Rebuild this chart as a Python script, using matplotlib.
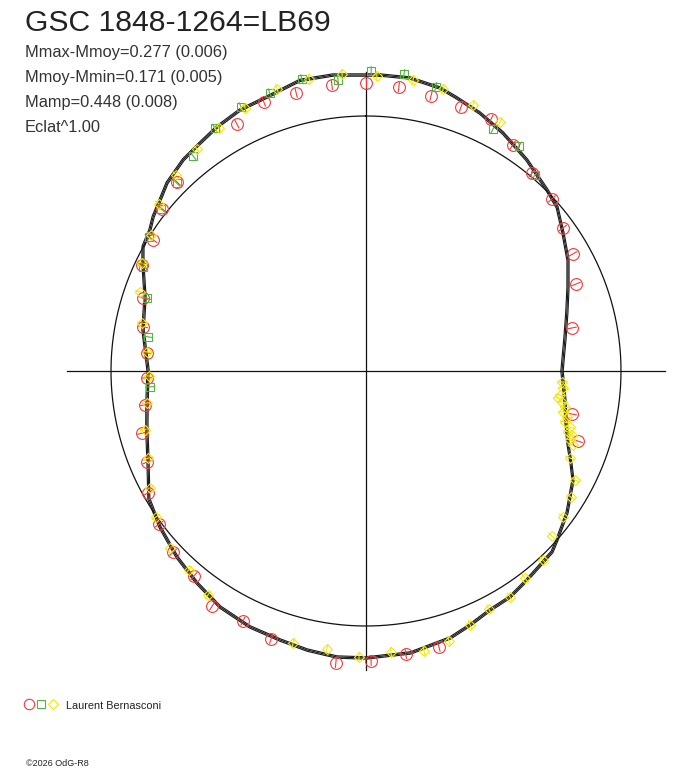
import numpy as np
import matplotlib
matplotlib.use("Agg")
import matplotlib.pyplot as plt

plt.rcParams['font.family'] = ['Liberation Sans', 'DejaVu Sans']

TITLE = "GSC 1848-1264=LB69"
STATS = ["Mmax-Mmoy=0.277 (0.006)",
         "Mmoy-Mmin=0.171 (0.005)",
         "Mamp=0.448 (0.008)",
         "Eclat^1.00"]
OBSERVER = "Laurent Bernasconi"
FOOTER = "\u00a92026 OdG-R8"

# phase angle in degrees (clockwise from top), radius in plot units
REF_R = 255      # mean level circle
AXIS_R = 299     # length of the cross lines
R_LIM = 310

fit_phase = [2.7, 8.5, 14.7, 18.4, 23.8, 29.9, 37.3, 45.0, 49.4, 55.0, 61.2, 67.4, 73.9, 80.6,
             90.0, 98.3, 104.0, 110.0, 114.2, 117.8, 125.2, 131.5, 134.2, 142.4, 147.5, 152.6,
             157.7, 162.5, 171.0, 180.0, 185.8, 191.9, 197.7, 204.4, 211.7, 218.6, 225.5, 232.9,
             239.5, 247.1, 255.1, 261.7, 270.3, 280.4, 288.5, 295.8, 299.1, 303.1, 305.9, 313.4,
             319.1, 324.0, 328.6, 334.2, 340.1, 347.2, 353.6]
fit_r = [296.3, 296.3, 292.5, 287.8, 282.0, 274.6, 265.4, 256.0, 251.7, 240.5, 230.5, 218.8,
         209.0, 201.7, 196.0, 201.0, 206.0, 215.0, 224.7, 234.0, 246.0, 255.0, 259.5, 263.8,
         268.0, 269.3, 274.5, 279.9, 285.4, 287.0, 287.5, 285.2, 282.4, 281.0, 277.5, 271.1,
         265.2, 258.4, 252.0, 236.6, 226.8, 221.3, 218.0, 226.7, 233.0, 247.8, 255.2, 258.0,
         262.8, 273.8, 279.3, 282.0, 285.9, 289.8, 291.3, 298.0, 297.8]
FIT_SPREAD = 1.2

red_phase = [0, 353.2, 6.6, 13.3, 19.8, 26.4, 33.0, 40.0, 47.2, 54.0, 60.5, 67.5, 78.2, 101.8,
             108.3, 165.2, 172.0, 179.0, 185.9, 199.5, 206.2, 213.2, 220.0, 226.8, 233.5, 240.8,
             247.4, 254.5, 261.3, 268.2, 274.7, 281.2, 288.1, 295.3, 301.6, 308.5, 315.0, 332.4,
             339.2, 345.9]
red_r = [288, 288.0, 285.9, 282.6, 280.6, 281.3, 269.6, 258.4, 253.3, 243.4, 237.8, 227.3, 210.4,
         210.4, 223.3, 285.5, 285.8, 290.0, 293.5, 284.3, 278.6, 281.0, 267.6, 264.6, 257.4, 249.8,
         237.2, 232.4, 223.6, 219.1, 219.7, 227.3, 234.6, 247.8, 250.1, 260.5, 267.3, 278.7,
         287.7, 286.7]

green_phase = [347.6, 354.5, 1.0, 7.3, 13.8, 27.7, 34.2, 40.8, 340.9, 334.7, 328.1, 321.2,
               314.8, 308.3, 301.7, 295.0, 288.4, 278.9, 265.8]
green_r = [298.9, 292.3, 300.0, 299.4, 292.5, 273.3, 272.1, 258.8, 294.1, 292.1, 286.1, 276.0,
           266.6, 261.3, 255.0, 246.1, 230.8, 220.6, 216.6]

yellow_phase = [355.4, 349.0, 342.5, 335.3, 328.8, 322.7, 315.9, 308.9, 302.3, 295.7, 289.3,
                282.1, 275.0, 268.7, 261.7, 255.1, 248.2, 241.6, 235.2, 227.9, 221.7, 215.2,
                195.0, 188.0, 181.4, 174.9, 168.3, 162.9, 157.7, 152.7, 147.5, 142.5, 136.9,
                131.6, 126.5, 121.6, 117.5, 113.1, 109.7, 108.7, 107.3, 106.8, 105.4, 104.4,
                102.9, 101.8, 100.3, 99.0, 98.0, 97.1, 94.9, 93.2, 2.1, 9.2, 15.3, 21.9, 28.3]
yellow_r = [298.0, 297.5, 295.7, 289.5, 284.0, 279.0, 273.0, 266.0, 254.4, 248.7, 239.4,
            229.1, 219.8, 217.1, 221.3, 228.7, 234.7, 245.6, 255.8, 264.1, 266.3, 274.1,
            281.6, 280.7, 286.1, 282.1, 285.9, 282.5, 274.5, 267.9, 268.0, 261.0, 258.9,
            248.6, 245.2, 240.6, 235.7, 221.8, 219.8, 215.4, 215.7, 211.0, 211.5, 205.4,
            206.2, 201.2, 202.2, 198.4, 193.9, 195.5, 197.7, 196.3, 295.2, 294.8, 292.3, 286.7, 282.8]

ERR = 5

RED = '#f23a3a'
GREEN = '#56b243'
YELLOW = '#f2ea00'

W, H = 688, 768
fig = plt.figure(figsize=(W / 100, H / 100), dpi=100)
cx, cy = 366, 371
ax = fig.add_axes([(cx - R_LIM) / W, (H - cy - R_LIM) / H, 2 * R_LIM / W, 2 * R_LIM / H],
                  projection='polar')
ax.set_theta_zero_location('N')
ax.set_theta_direction(-1)
ax.set_ylim(0, R_LIM)
ax.axis('off')

# cross lines and mean circle
ax.plot([0, 0, np.pi], [AXIS_R, 0, AXIS_R], color='#111111', lw=0.9)
ax.plot([np.pi / 2, 0, 3 * np.pi / 2], [AXIS_R, 0, AXIS_R], color='#111111', lw=0.9)
t = np.linspace(0, 2 * np.pi, 400)
ax.plot(t, np.full_like(t, REF_R), color='#111111', lw=0.9)

# fitted curve (with spread)
ft = np.deg2rad(fit_phase + fit_phase[:1])
fr = np.array(fit_r + fit_r[:1], dtype=float)
for off in (-FIT_SPREAD, 0, FIT_SPREAD):
    ax.plot(ft, fr + off, color='#1a1a1a', lw=0.8)

def draw(phase, r, fmt, color, ms):
    ax.errorbar(np.deg2rad(phase), r, yerr=ERR, fmt=fmt, mfc='none', mec=color,
                ecolor=color, elinewidth=0.8, capsize=0, ms=ms, mew=0.8, clip_on=False)

draw(red_phase, red_r, 'o', RED, 8.5)
draw(green_phase, green_r, 's', GREEN, 6.3)
draw(yellow_phase, yellow_r, 'D', YELLOW, 5.5)

# texts
fig.text(25 / W, 1 - 31 / H, TITLE, fontsize=21.7, color='#222222', va='baseline')
for i, s in enumerate(STATS):
    fig.text(25 / W, 1 - (56.7 + 25 * i) / H, s, fontsize=11.8, color='#333333', va='baseline')

# observer legend
lg = fig.add_axes([0, 0, 1, 1], facecolor='none')
lg.set_xlim(0, W)
lg.set_ylim(H, 0)
lg.axis('off')
lg.plot([29], [704], 'o', mfc='none', mec=RED, ms=7.5, mew=0.8)
lg.plot([41], [704], 's', mfc='none', mec=GREEN, ms=5.8, mew=0.8)
lg.plot([53], [704], 'D', mfc='none', mec=YELLOW, ms=5.2, mew=0.8)
lg.text(66, 709, OBSERVER, fontsize=7.8, color='#222222', va='baseline')
lg.text(26, 766, FOOTER, fontsize=6.5, color='#222222', va='baseline')

fig.savefig('out.png', dpi=100)
